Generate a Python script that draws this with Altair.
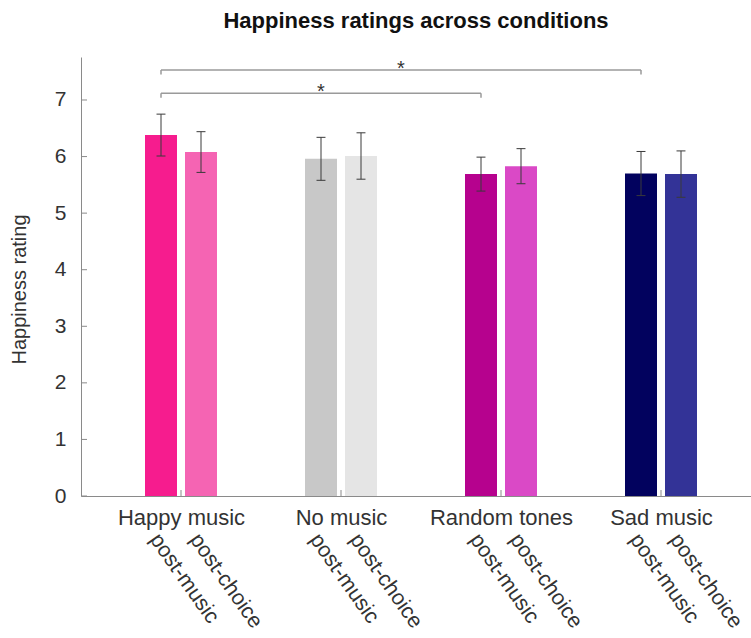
import altair as alt
import pandas as pd

# --- data ---------------------------------------------------------------
conditions = ["Happy music", "No music", "Random tones", "Sad music"]
phases = ["post-music", "post-choice"]
# mean happiness rating per condition, in (post-music, post-choice) order
means = [6.38, 6.08, 5.96, 6.01, 5.69, 5.83, 5.70, 5.69]
# half-length of each error bar
errors = [0.37, 0.36, 0.38, 0.41, 0.30, 0.31, 0.39, 0.41]
bar_colors = ["#F61C8E", "#F564B3", "#C8C8C8", "#E5E5E5",
              "#B6028E", "#DA49C6", "#02025E", "#333397"]

# significance brackets between post-music bars
sig_from = ["Happy music", "Happy music"]
sig_to = ["Random tones", "Sad music"]
sig_level = [7.12, 7.53]
sig_mark = ["*", "*"]

y_tick_values = [0, 1, 2, 3, 4, 5, 6, 7]
x_tick_values = [1, 2, 3, 4]

# --- geometry of the grouped layout (in x-scale units) ------------------
phase_offset = {"post-music": -0.125, "post-choice": 0.125}
bar_half = 0.1
cap_half = 0.028
FONT = "Liberation Sans"
TEXT = "#333333"
AXIS = "#8a8a8a"

rows = []
k = 0
for ci, cond in enumerate(conditions):
    for ph in phases:
        pos = ci + 1 + phase_offset[ph]
        rows.append({
            "key": f"{cond}|{ph}", "condition": cond, "phase": ph,
            "pos": pos, "lo": pos - bar_half, "hi": pos + bar_half,
            "mean": means[k], "base": 0.0,
            "err_lo": means[k] - errors[k], "err_hi": means[k] + errors[k],
            "cap_l": pos - cap_half, "cap_r": pos + cap_half,
        })
        k += 1
bars = pd.DataFrame(rows)

br_rows, end_rows = [], []
for a, b, lvl, m in zip(sig_from, sig_to, sig_level, sig_mark):
    xa = conditions.index(a) + 1 + phase_offset["post-music"]
    xb = conditions.index(b) + 1 + phase_offset["post-music"]
    br_rows.append({"x1": xa, "x2": xb, "mid": (xa + xb) / 2,
                    "level": lvl, "mark": m})
    for xe in (xa, xb):
        end_rows.append({"x": xe, "top": lvl, "bottom": lvl - 0.08})
brackets = pd.DataFrame(br_rows)
bracket_ends = pd.DataFrame(end_rows)
yticks = pd.DataFrame({"v": y_tick_values})
xticks = pd.DataFrame({"v": x_tick_values})

# --- scales and axes ----------------------------------------------------
W, H = 670, 439
xs = alt.Scale(domain=[0.375, 0.375 + W / 160], nice=False, zero=False)
ys = alt.Scale(domain=[0, 7.76], nice=False, zero=False)

label_lookup = "[" + ",".join(["''"] + [f"'{c}'" for c in conditions]) + "]"
x_axis = alt.Axis(values=x_tick_values, labelExpr=f"{label_lookup}[datum.value]",
                  tickSize=0, grid=False, domainColor=AXIS, labelFont=FONT,
                  labelFontSize=22, labelColor=TEXT, labelPadding=11,
                  title=None)
y_axis = alt.Axis(values=y_tick_values, format="d", tickSize=0, grid=False,
                  domainColor=AXIS, labelFont=FONT, labelFontSize=21,
                  labelColor=TEXT, labelPadding=15,
                  title="Happiness rating", titleFont=FONT, titleFontSize=20,
                  titleFontWeight="normal", titleColor=TEXT,
                  titleX=-52, titleY=232)


def X(field):
    return alt.X(field, type="quantitative", scale=xs, axis=x_axis)


def Y(field):
    return alt.Y(field, type="quantitative", scale=ys, axis=y_axis)


bar_layer = alt.Chart(bars).mark_rect().encode(
    x=X("lo"), x2="hi", y=Y("mean"), y2="base",
    color=alt.Color("key:N", scale=alt.Scale(domain=list(bars["key"]), range=bar_colors),
                    legend=None),
)

err_layer = alt.Chart(bars).mark_rule(color="#3a3a3a", strokeWidth=1).encode(
    x=X("pos"), y=Y("err_lo"), y2="err_hi")
cap_hi = alt.Chart(bars).mark_rule(color="#3a3a3a", strokeWidth=1).encode(
    x=X("cap_l"), x2="cap_r", y=Y("err_hi"))
cap_lo = alt.Chart(bars).mark_rule(color="#3a3a3a", strokeWidth=1).encode(
    x=X("cap_l"), x2="cap_r", y=Y("err_lo"))

bracket_line = alt.Chart(brackets).mark_rule(color="#9a9a9a", strokeWidth=1.5).encode(
    x=X("x1"), x2="x2", y=Y("level"))
bracket_end = alt.Chart(bracket_ends).mark_rule(color="#9a9a9a", strokeWidth=1.5).encode(
    x=X("x"), y=Y("top"), y2="bottom")
stars = alt.Chart(brackets).mark_text(
    font=FONT, fontSize=20, color="#333333", baseline="middle", dy=-1).encode(
    x=X("mid"), y=Y("level"), text="mark:N")

ytick_layer = alt.Chart(yticks).mark_rule(color=AXIS, strokeWidth=1).encode(
    y=Y("v"), x=alt.value(0), x2=alt.value(6))
xtick_layer = alt.Chart(xticks).mark_rule(color=AXIS, strokeWidth=1).encode(
    x=X("v"), y=alt.value(H), y2=alt.value(H - 6))

phase_labels = alt.Chart(bars).mark_text(
    font=FONT, fontSize=21.5, color=TEXT, angle=55, align="left",
    baseline="middle", dx=-12).encode(
    x=X("pos"), y=alt.value(H + 50), text="phase:N")

chart = alt.layer(
    bar_layer, err_layer, cap_hi, cap_lo, bracket_line, bracket_end, stars,
    ytick_layer, xtick_layer, phase_labels,
).properties(
    width=W, height=H,
    title=alt.TitleParams("Happiness ratings across conditions", font=FONT,
                          fontSize=22, fontWeight="bold", color="#111111",
                          anchor="middle", baseline="alphabetic", offset=7),
    autosize=alt.AutoSizeParams(type="none"),
    padding={"left": 81, "top": 57, "right": 0, "bottom": 142},
    background="white",
).configure_view(stroke=None)

chart.save("out.html", embed_options={"renderer": "svg", "actions": False})
